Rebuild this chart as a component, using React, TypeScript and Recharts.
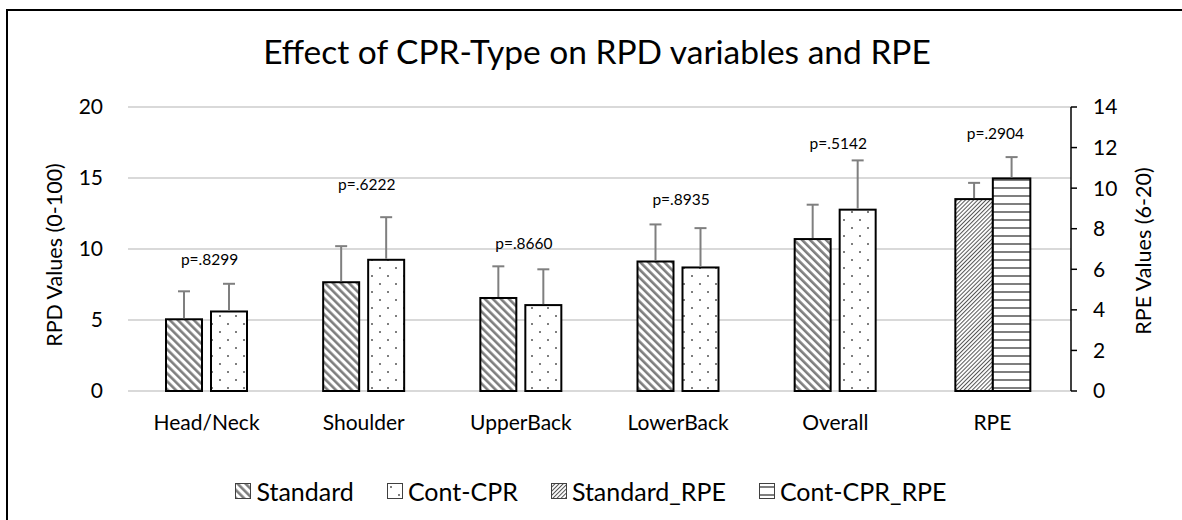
import React from 'react';
import {
  ComposedChart,
  Bar,
  Line,
  XAxis,
  YAxis,
  CartesianGrid,
  Legend,
  LabelList,
} from 'recharts';

// ---------- data ----------
const categories = ['Head/Neck', 'Shoulder', 'UpperBack', 'LowerBack', 'Overall', 'RPE'];
const standardValues = [5.05, 7.66, 6.55, 9.12, 10.7, null];
const standardErrors = [1.97, 2.54, 2.23, 2.61, 2.42, null];
const contCprValues = [5.6, 9.24, 6.05, 8.7, 12.77, null];
const contCprErrors = [1.95, 3.0, 2.52, 2.77, 3.47, null];
const standardRpeValues = [null, null, null, null, null, 9.46];
const standardRpeErrors = [null, null, null, null, null, 0.8];
const contCprRpeValues = [null, null, null, null, null, 10.48];
const contCprRpeErrors = [null, null, null, null, null, 1.05];
const pValueLabels = ['p=.8299', 'p=.6222', 'p=.8660', 'p=.8935', 'p=.5142', 'p=.2904'];
// level (on the RPD axis) where each p-value annotation sits
const pLabelLevels = [9.27, 14.58, 10.44, 13.52, 17.44, 18.15];
const leftTicks = [0, 5, 10, 15, 20];
const rightTicks = [0, 2, 4, 6, 8, 10, 12, 14];

const seriesNames = ['Standard', 'Cont-CPR', 'Standard_RPE', 'Cont-CPR_RPE'];
const seriesPatterns = ['patStd', 'patCont', 'patStdRpe', 'patContRpe'];

const data = categories.map((category, i) => ({
  category,
  standard: standardValues[i],
  standardErr: standardErrors[i],
  contCpr: contCprValues[i],
  contCprErr: contCprErrors[i],
  standardRpe: standardRpeValues[i],
  standardRpeErr: standardRpeErrors[i],
  contCprRpe: contCprRpeValues[i],
  contCprRpeErr: contCprRpeErrors[i],
  pLevel: pLabelLevels[i],
  pText: pValueLabels[i],
}));

// ---------- styling ----------
const FONT = 'Lato, "Open Sans", sans-serif';
const W = 1182;
const H = 520;
const BAR_GAP = 9;
const ERR_COLOR = '#7f7f7f';
const PAT_COLOR = '#7f7f7f';

const PatternDefs = ({ suffix = '' }: { suffix?: string }) => (
  <defs>
    <pattern id={`patStd${suffix}`} patternUnits="userSpaceOnUse" width={5.66} height={5.66} patternTransform="rotate(-45)">
      <rect x={0} y={0} width={5.66} height={5.66} fill="#fff" />
      <rect x={0} y={0} width={2.6} height={5.66} fill={PAT_COLOR} />
    </pattern>
    <pattern id={`patCont${suffix}`} patternUnits="userSpaceOnUse" width={16} height={16}>
      <rect x={0} y={0} width={16} height={16} fill="#fff" />
      <rect x={3} y={3} width={2} height={2} fill={PAT_COLOR} />
      <rect x={11} y={11} width={2} height={2} fill={PAT_COLOR} />
    </pattern>
    <pattern id={`patStdRpe${suffix}`} patternUnits="userSpaceOnUse" width={2.9} height={2.9} patternTransform="rotate(45)">
      <rect x={0} y={0} width={2.9} height={2.9} fill="#fff" />
      <rect x={0} y={0} width={1} height={2.9} fill="#555" />
    </pattern>
    <pattern id={`patContRpe${suffix}`} patternUnits="userSpaceOnUse" width={8} height={8}>
      <rect x={0} y={0} width={8} height={8} fill="#fff" />
      <rect x={0} y={3} width={8} height={2} fill={PAT_COLOR} />
    </pattern>
  </defs>
);

const makeShape = (patternId: string, valueKey: string, errKey: string, shift: number) => (props: any) => {
  const { x, y, width, height, payload } = props;
  const v = payload ? payload[valueKey] : null;
  const e = payload ? payload[errKey] : null;
  if (v == null || !height || !isFinite(height)) return <g />;
  const bx = x + shift;
  const pxPerUnit = height / v;
  const cx = bx + width / 2;
  const ey = y - (e || 0) * pxPerUnit;
  return (
    <g>
      <rect x={bx} y={y} width={width} height={height} fill={`url(#${patternId})`} stroke="#000" strokeWidth={2} />
      <line x1={cx} x2={cx} y1={y - 1} y2={ey} stroke={ERR_COLOR} strokeWidth={2} />
      <line x1={cx - 6} x2={cx + 6} y1={ey} y2={ey} stroke={ERR_COLOR} strokeWidth={2} />
    </g>
  );
};

const renderPLabel = (props: any) => {
  const { x, y, value } = props;
  if (value == null) return null;
  return (
    <text x={x + 3} y={y} textAnchor="middle" dominantBaseline="central" fontSize={15.5} fontFamily={FONT} fill="#000">
      {value}
    </text>
  );
};

const LeftTitle = ({ viewBox }: any) => {
  const cx = viewBox.x + 34;
  const cy = viewBox.y + viewBox.height / 2 + 6;
  return (
    <text x={cx} y={cy} transform={`rotate(-90, ${cx}, ${cy})`} textAnchor="middle" dominantBaseline="central" fontSize={21.5} fontFamily={FONT} fill="#000">
      RPD Values (0-100)
    </text>
  );
};

const RightTitle = ({ viewBox }: any) => {
  const cx = viewBox.x + 72;
  const cy = viewBox.y + viewBox.height / 2 + 2;
  return (
    <text x={cx} y={cy} transform={`rotate(-90, ${cx}, ${cy})`} textAnchor="middle" dominantBaseline="central" fontSize={21.5} fontFamily={FONT} fill="#000">
      RPE Values (6-20)
    </text>
  );
};

const LegendContent = () => (
  <div style={{ display: 'flex', justifyContent: 'center', alignItems: 'center', fontFamily: FONT, fontSize: 25, color: '#000' }}>
    {seriesNames.map((name, i) => (
      <div key={name} style={{ display: 'flex', alignItems: 'center', marginRight: i < seriesNames.length - 1 ? 33 : 0 }}>
        <svg width={16} height={16} style={{ marginRight: 5 }}>
          <PatternDefs suffix={`-lg${i}`} />
          <rect x={0.5} y={0.5} width={15} height={15} fill={`url(#${seriesPatterns[i]}-lg${i})`} stroke="#404040" strokeWidth={1} />
        </svg>
        <span>{name}</span>
      </div>
    ))}
  </div>
);

export default function App() {
  return (
    <div style={{ position: 'absolute', left: 0, top: 0, width: W, height: H, background: '#fff' }}>
      <div
        style={{
          position: 'absolute',
          left: 6,
          top: 9,
          width: W - 6,
          height: H - 9,
          boxSizing: 'border-box',
          borderTop: '2px solid #000',
          borderLeft: '2px solid #000',
        }}
      />
      <div style={{ position: 'absolute', left: 0, top: 0 }}>
        <ComposedChart
          width={W}
          height={H}
          data={data}
          barGap={BAR_GAP}
          margin={{ top: 107, right: 21, bottom: 99, left: 20 }}
        >
          <PatternDefs />
          <text x={597} y={64} textAnchor="middle" fontSize={33.5} fontFamily={FONT} fill="#000">
            Effect of CPR-Type on RPD variables and RPE
          </text>
          <CartesianGrid xAxisId="main" yAxisId="left" vertical={false} stroke="#d9d9d9" strokeWidth={2} />
          <XAxis
            xAxisId="main"
            dataKey="category"
            axisLine={false}
            tickLine={false}
            tickMargin={18}
            height={30}
            interval={0}
            tick={{ fontSize: 21, fontFamily: FONT, fill: '#000' }}
          />
          <XAxis xAxisId="rpe" dataKey="category" hide />
          <YAxis
            yAxisId="left"
            orientation="left"
            width={108}
            domain={[0, 20]}
            ticks={leftTicks}
            axisLine={false}
            tickLine={false}
            tickMargin={19}
            tick={{ fontSize: 21, fontFamily: FONT, fill: '#000' }}
            label={{ content: LeftTitle }}
          />
          <YAxis
            yAxisId="right"
            orientation="right"
            width={90}
            domain={[0, 14]}
            ticks={rightTicks}
            axisLine={{ stroke: '#000', strokeWidth: 1.5 }}
            tickLine={{ stroke: '#000', strokeWidth: 1.5 }}
            tickSize={6}
            tickMargin={16}
            tick={{ fontSize: 21, fontFamily: FONT, fill: '#000' }}
            label={{ content: RightTitle }}
          />
          <Bar
            xAxisId="main"
            yAxisId="left"
            dataKey="standard"
            name="Standard"
            barSize={36}
            isAnimationActive={false}
            shape={makeShape('patStd', 'standard', 'standardErr', 0)}
          />
          <Bar
            xAxisId="main"
            yAxisId="left"
            dataKey="contCpr"
            name="Cont-CPR"
            barSize={36}
            isAnimationActive={false}
            shape={makeShape('patCont', 'contCpr', 'contCprErr', 0)}
          />
          <Bar
            xAxisId="rpe"
            yAxisId="right"
            dataKey="standardRpe"
            name="Standard_RPE"
            barSize={37.5}
            isAnimationActive={false}
            shape={makeShape('patStdRpe', 'standardRpe', 'standardRpeErr', BAR_GAP / 2)}
          />
          <Bar
            xAxisId="rpe"
            yAxisId="right"
            dataKey="contCprRpe"
            name="Cont-CPR_RPE"
            barSize={37.5}
            isAnimationActive={false}
            shape={makeShape('patContRpe', 'contCprRpe', 'contCprRpeErr', -BAR_GAP / 2)}
          />
          <Line
            xAxisId="main"
            yAxisId="left"
            dataKey="pLevel"
            stroke="none"
            dot={false}
            activeDot={false}
            legendType="none"
            isAnimationActive={false}
          >
            <LabelList dataKey="pText" content={renderPLabel} />
          </Line>
          <Legend
            layout="horizontal"
            verticalAlign="middle"
            align="center"
            content={LegendContent}
            wrapperStyle={{ position: 'absolute', left: 0, top: 476, width: W, height: 30 }}
          />
        </ComposedChart>
      </div>
    </div>
  );
}
